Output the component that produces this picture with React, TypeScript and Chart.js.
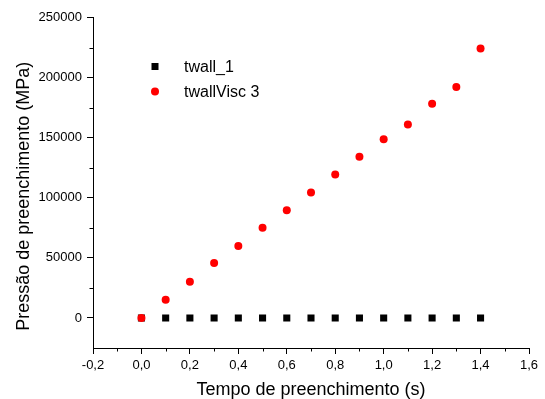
import React, { useEffect, useRef } from 'react';
import { Chart, registerables } from 'chart.js';

Chart.register(...registerables);

const FONT = '"Liberation Sans", Arial, Helvetica, sans-serif';

const times = [0, 0.1, 0.2, 0.3, 0.4, 0.5, 0.6, 0.7, 0.8, 0.9, 1.0, 1.1, 1.2, 1.3, 1.4];
const twall1 = [0, 0, 0, 0, 0, 0, 0, 0, 0, 0, 0, 0, 0, 0, 0];
const twallVisc3 = [0, 15200, 30200, 45700, 59900, 75000, 89700, 104400, 119400, 134200, 148600, 161000, 178300, 192200, 224300];
const seriesLabels = ['twall_1', 'twallVisc 3'];

const xMajorTicks = [-0.2, 0, 0.2, 0.4, 0.6, 0.8, 1.0, 1.2, 1.4, 1.6];
const xMinorTicks = [-0.1, 0.1, 0.3, 0.5, 0.7, 0.9, 1.1, 1.3, 1.5];
const yMajorTicks = [0, 50000, 100000, 150000, 200000, 250000];
const yMinorTicks = [25000, 75000, 125000, 175000, 225000];

const xTitle = 'Tempo de preenchimento (s)';
const yTitle = 'Pressão de preenchimento (MPa)';

const minorTicksPlugin = {
  id: 'minorTicks',
  afterDraw(chart: any) {
    const ctx = chart.ctx;
    const xs = chart.scales.x;
    const ys = chart.scales.y;
    ctx.save();
    ctx.strokeStyle = '#000';
    ctx.lineWidth = 1;
    ctx.beginPath();
    xMinorTicks.forEach((v) => {
      const px = Math.round(xs.getPixelForValue(v)) + 0.5;
      ctx.moveTo(px, xs.top);
      ctx.lineTo(px, xs.top + 3.5);
    });
    yMinorTicks.forEach((v) => {
      const py = Math.round(ys.getPixelForValue(v)) + 0.5;
      ctx.moveTo(ys.right, py);
      ctx.lineTo(ys.right - 3.5, py);
    });
    ctx.stroke();
    ctx.restore();
  },
};

const yTitlePlugin = {
  id: 'yTitle',
  afterDraw(chart: any) {
    const ctx = chart.ctx;
    const area = chart.chartArea;
    const ys = chart.scales.y;
    ctx.save();
    ctx.translate(ys.left + 23.8, (area.top + area.bottom) / 2 + 13.5);
    ctx.rotate(-Math.PI / 2);
    ctx.fillStyle = '#000';
    ctx.font = `18px ${FONT}`;
    ctx.textAlign = 'center';
    ctx.textBaseline = 'middle';
    ctx.fillText(yTitle, 0, 0);
    ctx.restore();
  },
};

const legendPlugin = {
  id: 'customLegend',
  afterDraw(chart: any) {
    const ctx = chart.ctx;
    const area = chart.chartArea;
    const mx = area.left + 62;
    const tx = area.left + 91;
    const y1 = area.top + 49;
    const y2 = area.top + 74;
    ctx.save();
    ctx.fillStyle = '#000';
    ctx.fillRect(mx - 3.5, y1 - 3.5, 7, 7);
    ctx.fillStyle = '#ff0000';
    ctx.beginPath();
    ctx.arc(mx, y2, 4, 0, Math.PI * 2);
    ctx.fill();
    ctx.fillStyle = '#000';
    ctx.font = `16px ${FONT}`;
    ctx.textBaseline = 'middle';
    ctx.textAlign = 'left';
    ctx.fillText(seriesLabels[0], tx, y1 + 1);
    ctx.fillText(seriesLabels[1], tx, y2 + 1);
    ctx.restore();
  },
};

export default function App() {
  const ref = useRef<HTMLCanvasElement>(null);

  useEffect(() => {
    if (!ref.current) return;
    const chart = new Chart(ref.current, {
      type: 'scatter',
      data: {
        datasets: [
          {
            label: seriesLabels[0],
            data: times.map((t, i) => ({ x: t, y: twall1[i] })),
            pointStyle: 'rect',
            pointRadius: 5,
            pointHoverRadius: 5,
            pointBorderWidth: 0,
            backgroundColor: '#000',
            borderColor: '#000',
            order: 2,
          },
          {
            label: seriesLabels[1],
            data: times.map((t, i) => ({ x: t, y: twallVisc3[i] })),
            pointStyle: 'circle',
            pointRadius: 4,
            pointHoverRadius: 4,
            pointBorderWidth: 0,
            backgroundColor: '#ff0000',
            borderColor: '#ff0000',
            order: 1,
          },
        ],
      },
      options: {
        animation: false,
        responsive: false,
        events: [],
        layout: { padding: { left: 0, right: 16, top: 17.5, bottom: 0 } },
        plugins: {
          legend: { display: false },
          tooltip: { enabled: false },
        },
        scales: {
          x: {
            type: 'linear',
            min: -0.2,
            max: 1.6,
            afterBuildTicks: (scale: any) => {
              scale.ticks = xMajorTicks.map((v) => ({ value: v }));
            },
            afterFit: (scale: any) => {
              scale.height = 51;
            },
            grid: { drawOnChartArea: false, drawTicks: true, tickLength: 6, color: '#000', tickColor: '#000' },
            border: { display: true, color: '#000', width: 1 },
            ticks: {
              color: '#000',
              padding: 4,
              maxRotation: 0,
              autoSkip: false,
              font: { family: FONT, size: 13 },
              callback: (v: any) => Number(v).toFixed(1).replace('.', ','),
            },
            title: {
              display: true,
              text: xTitle,
              color: '#000',
              font: { family: FONT, size: 18 },
              padding: { top: 0, bottom: -2 },
            },
          },
          y: {
            type: 'linear',
            min: -25000,
            max: 250000,
            afterBuildTicks: (scale: any) => {
              scale.ticks = yMajorTicks.map((v) => ({ value: v }));
            },
            afterFit: (scale: any) => {
              scale.width = 93;
            },
            grid: { drawOnChartArea: false, drawTicks: true, tickLength: 6, color: '#000', tickColor: '#000' },
            border: { display: true, color: '#000', width: 1 },
            ticks: {
              color: '#000',
              padding: 5,
              autoSkip: false,
              font: { family: FONT, size: 13 },
              callback: (v: any) => String(v),
            },
            title: { display: false },
          },
        },
      },
      plugins: [minorTicksPlugin, yTitlePlugin, legendPlugin],
    } as any);
    return () => chart.destroy();
  }, []);

  return (
    <div style={{ position: 'absolute', left: 0, top: 0, width: 545, height: 399 }}>
      <canvas ref={ref} width={545} height={399} style={{ display: 'block' }} />
    </div>
  );
}
